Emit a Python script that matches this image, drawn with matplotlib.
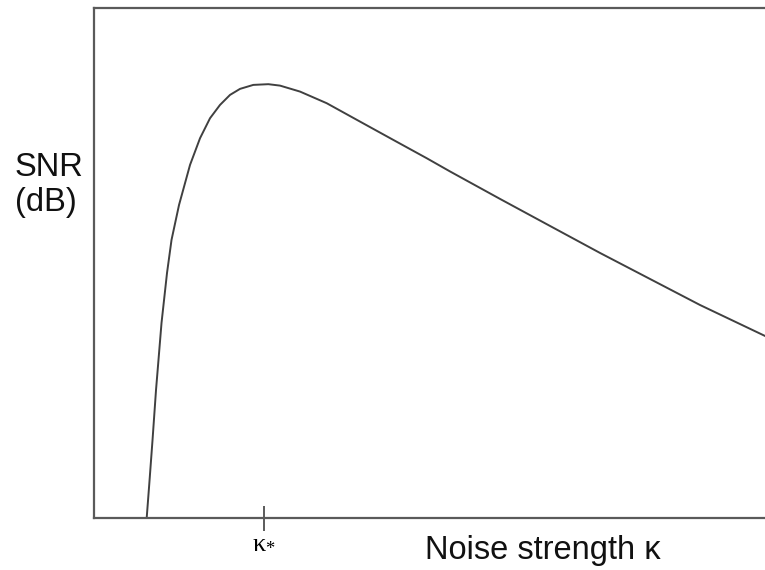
import matplotlib
matplotlib.use("Agg")
import matplotlib.pyplot as plt

# Noise strength (arbitrary units) and SNR (arbitrary dB scale)
kappa = [0.785, 0.828, 0.872, 0.924, 1.006, 1.088, 1.155, 1.267, 1.431, 1.580,
         1.729, 1.878, 2.027, 2.176, 2.374, 2.598, 2.772, 3.070, 3.468, 3.964,
         4.460, 4.958, 5.305, 6.051, 6.796, 7.541, 8.286, 9.031, 10.0]
snr = [0.000, 0.745, 1.529, 2.510, 3.824, 4.804, 5.451, 6.137, 6.922, 7.445,
       7.837, 8.098, 8.294, 8.412, 8.490, 8.504, 8.476, 8.359, 8.131, 7.771,
       7.412, 7.053, 6.794, 6.255, 5.725, 5.196, 4.686, 4.176, 3.569]
kappa_star = 2.53
tick_label = r"$\mathregular{\kappa_{*}}$"

plt.rcParams["font.family"] = ["Liberation Sans", "DejaVu Sans"]

fig = plt.figure(figsize=(7.65, 5.7), dpi=100)
ax = fig.add_axes([0.1229, 0.0912, 0.8771, 0.895])

ax.plot(kappa, snr, color="#404040", lw=1.4, solid_joinstyle="round")
ax.set_xlim(0, 10)
ax.set_ylim(0, 10)

for side in ("left", "bottom", "top"):
    ax.spines[side].set_color("#5a5a5a")
    ax.spines[side].set_linewidth(1.6)
ax.spines["right"].set_visible(False)

ax.set_yticks([])
ax.set_xticks([kappa_star])
ax.set_xticklabels([tick_label])
ax.tick_params(axis="x", direction="inout", length=18, width=1.2, color="#404040",
               labelsize=19, pad=0)
for lbl in ax.get_xticklabels():
    lbl.set_family("Liberation Serif")

fig.text(0.555, 0.035, "Noise strength \u03ba", fontsize=23.5, ha="left", va="center",
         color="#111111")
fig.text(0.019, 0.675, "SNR\n(dB)", fontsize=23.5, ha="left", va="center",
         color="#111111", linespacing=1.15)

fig.savefig("out.png", dpi=100)
